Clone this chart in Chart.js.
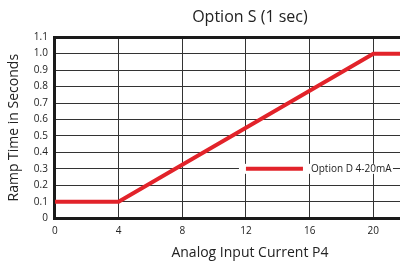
<!DOCTYPE html>
<html>
<head>
<meta charset="utf-8">
<script src="https://cdn.jsdelivr.net/npm/chart.js@4/dist/chart.umd.min.js"></script>
<style>
  html, body { margin: 0; padding: 0; background: #fff; overflow: hidden; width: 400px; height: 267px; }
  #wrap { width: 450px; height: 267px; }
</style>
</head>
<body>
<div id="wrap"><canvas id="chart" width="450" height="267"></canvas></div>
<script>
const currentMa = [0, 4, 20, 24.5];
const rampSeconds = [0.1, 0.1, 1.0, 1.0];
const xTicks = [0, 4, 8, 12, 16, 20];
const yTicks = [0, 0.1, 0.2, 0.3, 0.4, 0.5, 0.6, 0.7, 0.8, 0.9, 1.0, 1.1];
const seriesLabel = 'Option D 4-20mA';
const chartTitle = 'Option S (1 sec)';

const font = "'Open Sans', 'DejaVu Sans', sans-serif";
const red = '#e2232a';

// legend drawn inside the plot, over the 0.3 grid line
const innerLegend = {
  id: 'innerLegend',
  afterDatasetsDraw(chart) {
    const { ctx, scales } = chart;
    const ds = chart.data.datasets[0];
    const x0 = scales.x.getPixelForValue(12);
    const y0 = scales.y.getPixelForValue(0.3);
    ctx.save();
    ctx.fillStyle = '#fff';
    ctx.fillRect(x0 - 7, y0 - 5, 154, 10);
    ctx.strokeStyle = ds.borderColor;
    ctx.lineWidth = 4;
    ctx.beginPath();
    ctx.moveTo(x0, y0);
    ctx.lineTo(x0 + 57, y0);
    ctx.stroke();
    ctx.fillStyle = '#222';
    ctx.font = '10px ' + font;
    ctx.textBaseline = 'middle';
    ctx.fillText(ds.label, x0 + 65, y0);
    ctx.restore();
  }
};

new Chart(document.getElementById('chart'), {
  type: 'line',
  data: {
    datasets: [{
      label: seriesLabel,
      data: currentMa.map((x, i) => ({ x: x, y: rampSeconds[i] })),
      borderColor: red,
      borderWidth: 4,
      pointRadius: 0,
      tension: 0
    }]
  },
  options: {
    responsive: false,
    animation: false,
    layout: { padding: { left: 6, right: 5, top: 0, bottom: 6 } },
    plugins: {
      legend: { display: false },
      title: { display: false },
      tooltip: { enabled: false }
    },
    scales: {
      x: {
        type: 'linear',
        position: 'bottom',
        min: 0,
        max: 24.5,
        afterBuildTicks: s => { s.ticks = xTicks.map(v => ({ value: v })); },
        grid: { color: '#333', lineWidth: 1, drawTicks: false },
        border: { color: '#1a1a1a', width: 3 },
        ticks: { color: '#222', font: { family: font, size: 10 }, padding: 7 },
        title: {
          display: true,
          text: 'Analog Input Current P4',
          color: '#222',
          font: { family: font, size: 14 },
          padding: { top: 0, bottom: 0 }
        }
      },
      top: {
        type: 'linear',
        position: 'top',
        min: 0,
        max: 24.5,
        grid: { display: false },
        ticks: { display: false },
        border: { color: '#1a1a1a', width: 3 },
        title: {
          display: true,
          text: chartTitle,
          color: '#222',
          font: { family: font, size: 16 },
          padding: { top: 8, bottom: 2 }
        }
      },
      y: {
        min: 0,
        max: 1.1,
        afterBuildTicks: s => { s.ticks = yTicks.map(v => ({ value: v })); },
        grid: { color: '#333', lineWidth: 1, drawTicks: false },
        border: { color: '#1a1a1a', width: 3 },
        ticks: {
          color: '#222',
          font: { family: font, size: 10 },
          padding: 7,
          callback: v => v === 0 ? '0' : v.toFixed(1)
        },
        title: {
          display: true,
          text: 'Ramp Time in Seconds',
          color: '#222',
          font: { family: font, size: 14 },
          padding: { top: 0, bottom: 4 }
        }
      }
    }
  },
  plugins: [innerLegend]
});
</script>
</body>
</html>
